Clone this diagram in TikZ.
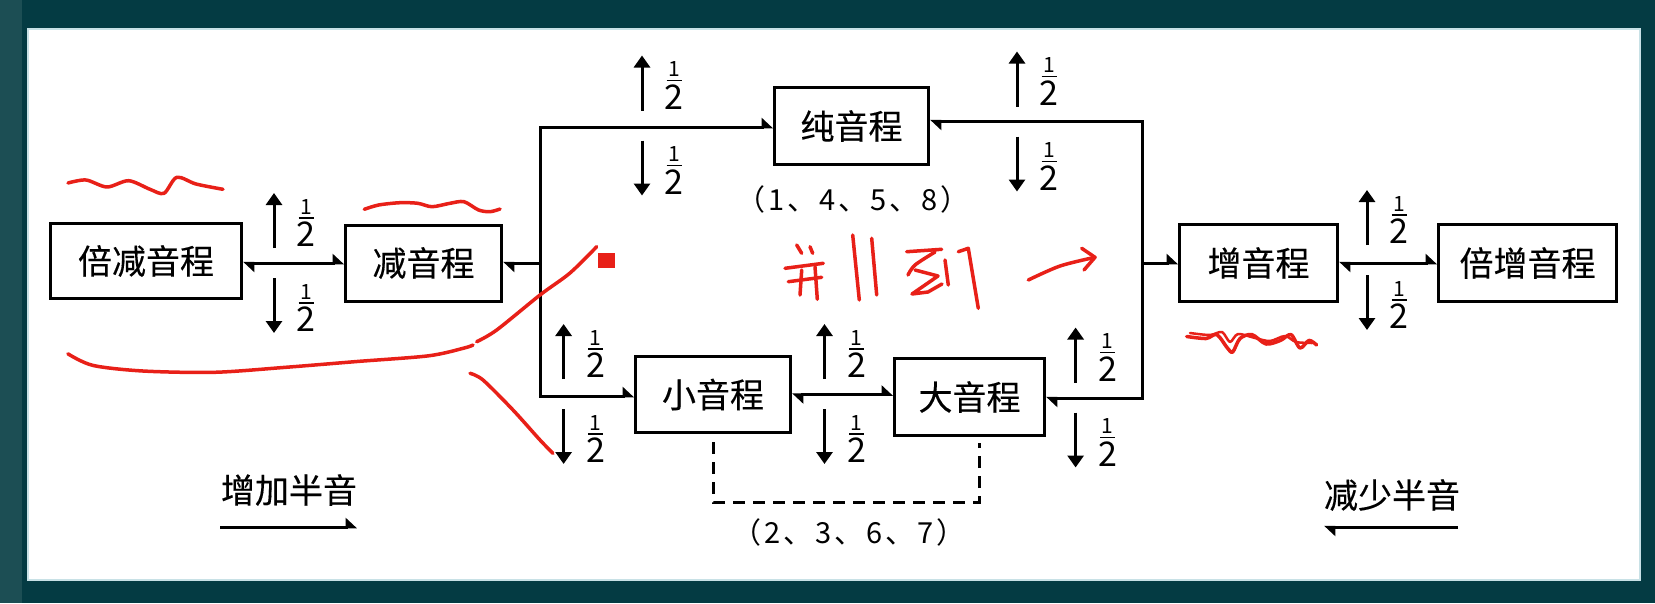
\documentclass[tikz,border=0pt]{standalone}
\usepackage{fontspec}
\setmainfont{Noto Sans CJK SC}
\newfontfamily\boxfont{Noto Sans CJK SC}[FakeBold=0.3]
\usetikzlibrary{arrows.meta,calc}
\definecolor{bgc}{RGB}{4,59,67}
\definecolor{stripc}{RGB}{28,78,84}
\definecolor{panelline}{RGB}{200,225,230}
\definecolor{redink}{RGB}{232,32,24}
\newcommand{\hlf}{\vbox{\offinterlineskip\halign{\hfil##\hfil\cr\fontsize{21}{21}\selectfont 1\cr\noalign{\kern3pt}\rule{15pt}{1.6pt}\cr\noalign{\kern3pt}\fontsize{34}{34}\selectfont 2\cr}}}
\newcommand{\gp}{\hspace{3pt}}
\tikzset{
  harp/.tip={Triangle[harpoon,length=10pt,width=18pt]},
  box/.style={draw, line width=3pt, inner sep=0pt, fill=white, font=\boxfont\fontsize{34}{34}\selectfont},
  conn/.style={line width=3pt},
  vup/.style={line width=3pt, -{Triangle[length=12pt,width=16pt]}},
  dashline/.style={line width=3pt, dash pattern=on 12pt off 8pt},
  redpen/.style={draw=redink, line width=3.5pt, line cap=round, line join=round},
  lbl/.style={inner sep=0pt, font=\boxfont\fontsize{34}{34}\selectfont},
  nums/.style={inner sep=0pt, font=\fontsize{29}{29}\selectfont},
}
\begin{document}
\begin{tikzpicture}[x=1pt,y=-1pt]
\useasboundingbox (0,0) rectangle (1655,603);
\fill[bgc] (0,0) rectangle (1655,603);
\fill[stripc] (0,0) rectangle (22,603);
\filldraw[fill=white, draw=panelline, line width=1.5pt] (28,29) rectangle (1640,580);

% boxes
\node[box, minimum width=191pt, minimum height=75pt] (bjian) at (146,261) {倍减音程};
\node[box, minimum width=156pt, minimum height=76pt] (jian) at (423.5,263) {减音程};
\node[box, minimum width=154pt, minimum height=77pt] (chun) at (851.5,126) {纯音程};
\node[box, minimum width=155pt, minimum height=76pt] (xiao) at (713,394.5) {小音程};
\node[box, minimum width=150pt, minimum height=77pt] (da) at (969.5,397) {大音程};
\node[box, minimum width=158pt, minimum height=77pt] (zeng) at (1258.5,263) {增音程};
\node[box, minimum width=178pt, minimum height=77pt] (bzeng) at (1527.5,263) {倍增音程};

% trunk coordinates
\coordinate (LT) at (540,127);
\coordinate (LB) at (540,396);
\coordinate (RT) at (1142.5,121);
\coordinate (RB) at (1142.5,398);

% connectors
\draw[conn, harp-harp] (LT -| chun.west) -- (LT) -- (LB) -- (LB -| xiao.west);
\draw[conn, -harp] (LT |- jian.east) -- (jian.east);
\draw[conn, harp-harp] (RT -| chun.east) -- (RT) -- (RB) -- (RB -| da.east);
\draw[conn, -harp] (RT |- zeng.west) -- (zeng.west);
\draw[conn, harp-harp] (jian.west -| bjian.east) -- (jian.west);
\draw[conn, harp-harp] (xiao.east) -- (xiao.east -| da.west);
\draw[conn, harp-harp] (zeng.east) -- (bzeng.west);
\draw[dashline] ($(xiao.south)+(0,8)$) |- ($(da.south)+(9.5,65)$) -- ($(da.south)+(9.5,6)$);

% up/down half-step arrows
\foreach \x/\yc in {274/263, 642/125.5, 1017/121.5, 563.6/394, 824.5/394, 1075.6/397.5, 1367/260}{
  \draw[vup] (\x,\yc-15) -- (\x,\yc-70);
  \draw[vup] (\x,\yc+15) -- (\x,\yc+70);
  \node[inner sep=0pt] at (\x+32,\yc-40) {\hlf};
  \node[inner sep=0pt] at (\x+32,\yc+45) {\hlf};
}

% labels
\node[nums] (pure) at (853,199) {（\gp1\gp、\gp4\gp、\gp5\gp、\gp8\gp）};
\node[nums] (imp) at (849,532) {（\gp2\gp、\gp3\gp、\gp6\gp、\gp7\gp）};
\node[lbl] (inc) at (289,490) {增加半音};
\node[lbl] (dec) at (1392,495) {减少半音};
\coordinate (incA) at (220,527);
\coordinate (incB) at (357,527);
\coordinate (decA) at (1458,527);
\coordinate (decB) at (1324,527);
\draw[conn, -harp] (incA) -- (incB);
\draw[conn, -harp] (decA) -- (decB);

% red annotations
\draw[redpen] plot[smooth] coordinates {(68,183) (86,180) (107,187) (128.6,180.7) (150,189.3) (164,193.3) (176.8,177.3) (196,184) (223,189.3)};
\draw[redpen] plot[smooth] coordinates {(364.3,209.3) (378.6,205) (400,202.7) (417.9,203.3) (432,206.7) (450,203.3) (464,201.7) (478.6,210) (490,211.7) (500,209)};
\draw[redpen] plot[smooth] coordinates {(67.9,353.8) (92.9,365.4) (142.9,371) (214.3,372.3) (285.7,367.3) (357,361.5) (428.6,355.8) (464.3,348) (473,345)};
\draw[redpen] plot[smooth] coordinates {(476.7,341.7) (496.7,330) (540,295) (570,273) (596.7,246.7)};
\draw[redpen] plot[smooth] coordinates {(470,373.3) (483,380) (513,410) (540,440) (553,453.3)};
\fill[redink] (598,253) rectangle (615,268);
% handwritten marks
\draw[redpen] (796.7,245) -- (801.7,253.3);
\draw[redpen] (810,246.7) -- (812.7,253.3);
\draw[redpen] (785,268.3) -- (823.3,263.3);
\draw[redpen] (788.3,281.7) -- (821.7,277.3);
\draw[redpen] (801.7,270) -- (800,295);
\draw[redpen] (815,266.7) -- (817.3,299.3);
\draw[redpen] (852.7,235) -- (859.3,300);
\draw[redpen] (871.7,238.3) -- (876.7,295);
\draw[redpen] (906.7,251.7) -- (941.7,249.3);
\draw[redpen] plot[smooth] coordinates {(935,252) (915,265) (908,275)};
\draw[redpen] (915,270) -- (938,276) -- (912,294) -- (928,292) -- (942,284);
\draw[redpen] (945,260) -- (948.3,285);
\draw[redpen] (958.3,251.7) -- (968.3,248.3) -- (978.3,308.3);
\draw[redpen] plot[smooth] coordinates {(1028.3,280) (1060,266) (1095,257.3)};
\draw[redpen] (1081.7,248.3) -- (1095,257.3) -- (1084,270);
\draw[redpen] plot[smooth] coordinates {(1186.7,336.5) (1206,338.5) (1216.8,334.6) (1227.4,348) (1232.7,352) (1240,338.5) (1252,334.6) (1266,344) (1280.5,340.4) (1291,334.6) (1300,348) (1309,340.4) (1316.6,345)};
\draw[redpen, line width=2.5pt] plot[smooth] coordinates {(1190,333) (1210,335) (1222,332) (1230,342) (1238,334) (1255,338) (1270,341) (1285,336) (1296,342) (1312,343)};
\end{tikzpicture}
\end{document}
